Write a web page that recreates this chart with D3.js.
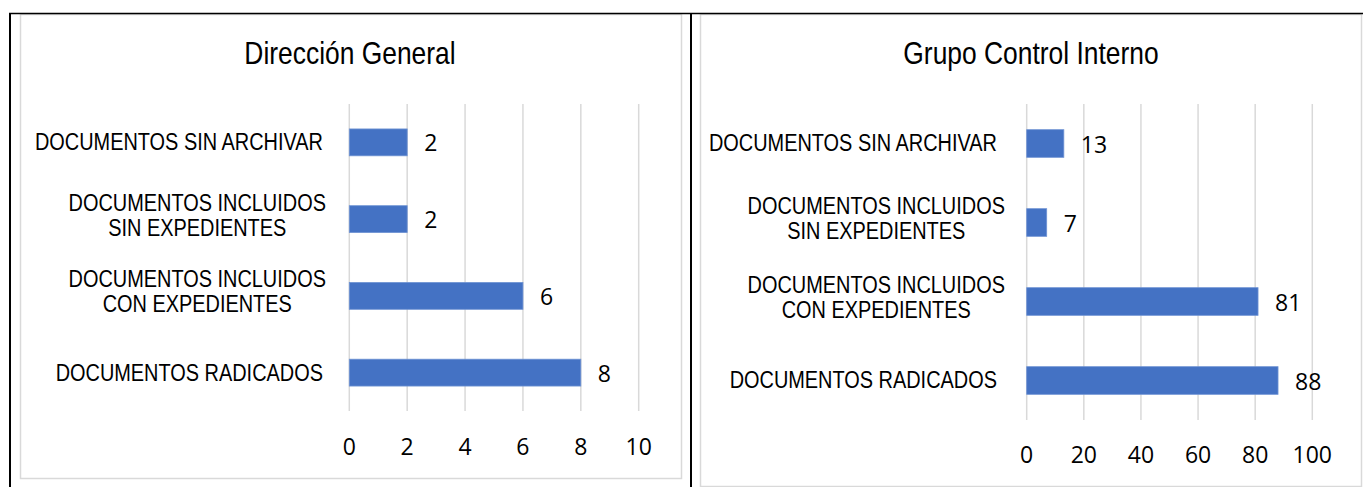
<!DOCTYPE html>
<html>
<head>
<meta charset="utf-8">
<script src="https://cdn.jsdelivr.net/npm/d3@7"></script>
<style>
  body { margin: 0; background: #fff; }
  svg { display: block; }
  .cat { font-family: "Liberation Sans", Arial, sans-serif; font-size: 23px; fill: #000; }
  .title { font-family: "Liberation Sans", Arial, sans-serif; font-size: 31px; fill: #000; }
  .num { font-family: "Open Sans", "Noto Sans", sans-serif; font-size: 23px; fill: #000; }
</style>
</head>
<body>
<svg id="chart" width="1364" height="487"></svg>
<script>
// categories, top to bottom (each entry = lines of the label)
const categories = [
  ["DOCUMENTOS SIN ARCHIVAR"],
  ["DOCUMENTOS INCLUIDOS", "SIN EXPEDIENTES"],
  ["DOCUMENTOS INCLUIDOS", "CON EXPEDIENTES"],
  ["DOCUMENTOS RADICADOS"]
];

const direccionTitle = "Dirección General";
const direccionValues = [2, 2, 6, 8];
const direccionTicks = [0, 2, 4, 6, 8, 10];

const controlTitle = "Grupo Control Interno";
const controlValues = [13, 7, 81, 88];
const controlTicks = [0, 20, 40, 60, 80, 100];

// squeeze Liberation Sans to look like Arial Narrow
const CAT_NARROW = 0.866;
const TITLE_NARROW = 0.852;

const svg = d3.select("#chart");

svg.append("rect").attr("x", 0).attr("y", 0).attr("width", 1364).attr("height", 487).attr("fill", "#fff");

// chart frames
svg.append("rect").attr("x", 20.5).attr("y", 14.5).attr("width", 661).attr("height", 464)
  .attr("fill", "none").attr("stroke", "#d9d9d9").attr("stroke-width", 1.5);
svg.append("rect").attr("x", 700.5).attr("y", 14.5).attr("width", 661).attr("height", 472)
  .attr("fill", "none").attr("stroke", "#d9d9d9").attr("stroke-width", 1.5);

// table borders
svg.append("line").attr("x1", 9).attr("x2", 1363).attr("y1", 13.5).attr("y2", 13.5)
  .attr("stroke", "#000").attr("stroke-width", 1.5);
svg.append("line").attr("x1", 10).attr("x2", 10).attr("y1", 13).attr("y2", 487)
  .attr("stroke", "#000").attr("stroke-width", 2);
svg.append("line").attr("x1", 691).attr("x2", 691).attr("y1", 13).attr("y2", 487)
  .attr("stroke", "#000").attr("stroke-width", 2);

function drawChart(opts) {
  const g = svg.append("g");

  const x = d3.scaleLinear()
    .domain([opts.ticks[0], opts.ticks[opts.ticks.length - 1]])
    .range([opts.x0, opts.x1]);

  const y = d3.scaleBand()
    .domain(d3.range(categories.length))
    .range([opts.top, opts.bottom])
    .paddingInner(0.65)
    .paddingOuter(0.325);

  g.append("g")
    .attr("transform", "translate(" + opts.titleX + ",64) scale(" + TITLE_NARROW + ",1)")
    .append("text")
    .attr("class", "title")
    .attr("text-anchor", "middle")
    .text(opts.title);

  // gridlines
  g.selectAll(".grid")
    .data(opts.ticks)
    .enter()
    .append("line")
    .attr("x1", d => x(d))
    .attr("x2", d => x(d))
    .attr("y1", opts.top)
    .attr("y2", opts.bottom)
    .attr("stroke", "#d9d9d9")
    .attr("stroke-width", 1.5);

  // tick labels
  g.selectAll(".tick-label")
    .data(opts.ticks)
    .enter()
    .append("text")
    .attr("class", "num")
    .attr("x", d => x(d))
    .attr("y", opts.tickY)
    .attr("text-anchor", "middle")
    .text(d => d);

  // bars
  g.selectAll(".bar")
    .data(opts.values)
    .enter()
    .append("rect")
    .attr("x", x(0))
    .attr("y", (d, i) => y(i))
    .attr("width", d => x(d) - x(0))
    .attr("height", y.bandwidth())
    .attr("fill", "#4472c4")
    .attr("stroke", "#6f93d3")
    .attr("stroke-width", 0.8);

  // data labels
  g.selectAll(".val")
    .data(opts.values)
    .enter()
    .append("text")
    .attr("class", "num")
    .attr("x", d => x(d) + 17)
    .attr("y", (d, i) => y(i) + y.bandwidth() / 2 + 9)
    .text(d => d);

  // category labels
  categories.forEach(function (lines, i) {
    const cy = y(i) + y.bandwidth() / 2;
    const holder = g.append("g");
    const t = holder.append("text").attr("class", "cat").attr("text-anchor", "middle");
    const first = lines.length === 1 ? cy + 8 : cy - 8.5;
    const spans = lines.map(function (line, j) {
      return t.append("tspan").attr("x", 0).attr("y", first + j * 25).text(line);
    });
    const w = d3.max(spans, s => s.node().getComputedTextLength()) * CAT_NARROW;
    const right = lines.length === 1 ? opts.labelRight : opts.labelRight2;
    holder.attr("transform", "translate(" + (right - w / 2) + ",0) scale(" + CAT_NARROW + ",1)");
  });
}

drawChart({
  title: direccionTitle, values: direccionValues, ticks: direccionTicks,
  x0: 349.3, x1: 638.7, top: 104, bottom: 411,
  titleX: 350, tickY: 455, labelRight: 323, labelRight2: 326
});

drawChart({
  title: controlTitle, values: controlValues, ticks: controlTicks,
  x0: 1026.7, x1: 1312.3, top: 104, bottom: 420,
  titleX: 1031, tickY: 463, labelRight: 997, labelRight2: 1005
});
</script>
</body>
</html>
